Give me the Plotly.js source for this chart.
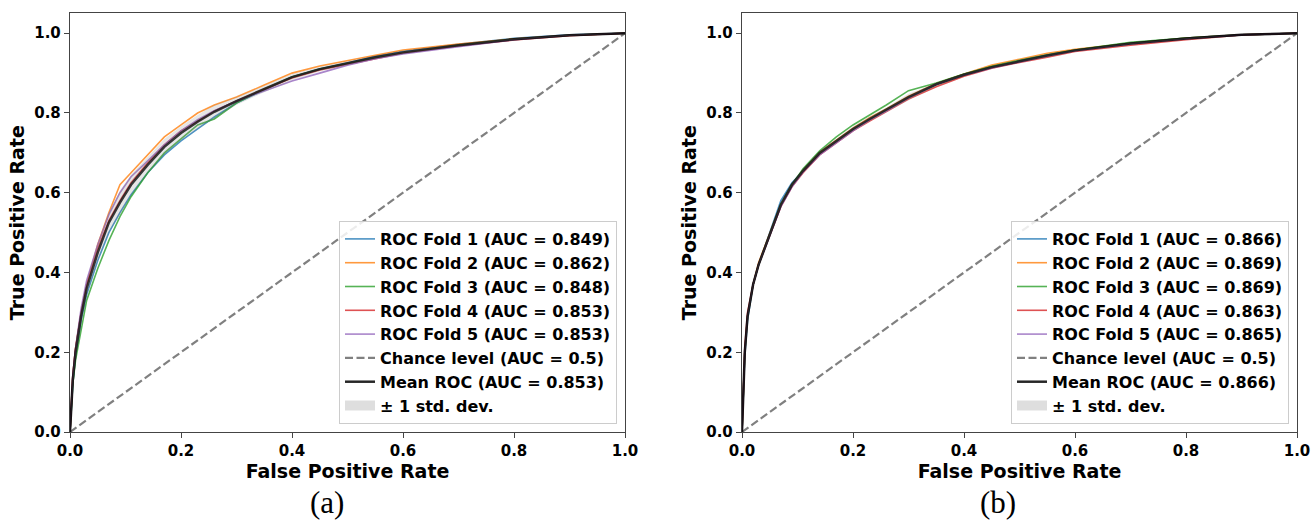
<!DOCTYPE html>
<html>
<head>
<meta charset="utf-8">
<script src="https://cdn.plot.ly/plotly-3.0.1.min.js"></script>
<style>html,body{margin:0;padding:0;background:#fff;}#chart{width:1312px;height:521px;}</style>
</head>
<body>
<div id="chart"></div>
<script>
// ---- shared grid ----
const fprGrid = [0, 0.005, 0.01, 0.02, 0.03, 0.05, 0.07, 0.09, 0.11, 0.14, 0.17, 0.2, 0.23, 0.26, 0.3, 0.35, 0.4, 0.45, 0.5, 0.55, 0.6, 0.7, 0.8, 0.9, 1.0];
const chanceX = [0, 1];
const chanceY = [0, 1];

// ---- panel (a) ----
const aFold1 = [0, 0.12, 0.19, 0.28, 0.345, 0.43, 0.50, 0.55, 0.595, 0.65, 0.695, 0.73, 0.76, 0.79, 0.825, 0.858, 0.89, 0.91, 0.925, 0.942, 0.955, 0.972, 0.987, 0.996, 1];
const aFold2 = [0, 0.14, 0.21, 0.30, 0.37, 0.47, 0.55, 0.62, 0.65, 0.695, 0.74, 0.77, 0.80, 0.82, 0.84, 0.87, 0.90, 0.918, 0.932, 0.945, 0.958, 0.973, 0.986, 0.995, 1];
const aFold3 = [0, 0.12, 0.18, 0.26, 0.33, 0.41, 0.48, 0.54, 0.59, 0.65, 0.70, 0.735, 0.77, 0.785, 0.825, 0.86, 0.89, 0.91, 0.924, 0.938, 0.95, 0.97, 0.985, 0.995, 1];
const aFold4 = [0, 0.14, 0.21, 0.30, 0.37, 0.46, 0.53, 0.58, 0.625, 0.675, 0.72, 0.755, 0.78, 0.805, 0.83, 0.86, 0.888, 0.908, 0.922, 0.937, 0.95, 0.968, 0.983, 0.994, 1];
const aFold5 = [0, 0.14, 0.21, 0.31, 0.38, 0.47, 0.545, 0.60, 0.64, 0.68, 0.72, 0.755, 0.783, 0.806, 0.83, 0.855, 0.88, 0.90, 0.92, 0.936, 0.948, 0.966, 0.984, 0.995, 1];
const aMean  = [0, 0.13, 0.20, 0.29, 0.36, 0.45, 0.525, 0.575, 0.62, 0.67, 0.715, 0.75, 0.778, 0.803, 0.83, 0.86, 0.89, 0.91, 0.925, 0.94, 0.952, 0.97, 0.985, 0.995, 1];
const aUpper = [0, 0.15, 0.22, 0.31, 0.38, 0.47, 0.55, 0.605, 0.645, 0.69, 0.735, 0.767, 0.795, 0.82, 0.84, 0.868, 0.898, 0.916, 0.93, 0.944, 0.956, 0.973, 0.987, 0.996, 1];
const aLower = [0, 0.11, 0.18, 0.27, 0.34, 0.43, 0.50, 0.545, 0.595, 0.65, 0.695, 0.733, 0.761, 0.786, 0.82, 0.852, 0.882, 0.904, 0.92, 0.936, 0.948, 0.967, 0.983, 0.994, 1];
const aLabels = ["ROC Fold 1 (AUC = 0.849)", "ROC Fold 2 (AUC = 0.862)", "ROC Fold 3 (AUC = 0.848)", "ROC Fold 4 (AUC = 0.853)", "ROC Fold 5 (AUC = 0.853)", "Chance level (AUC = 0.5)", "Mean ROC (AUC = 0.853)", "± 1 std. dev."];

// ---- panel (b) ----
const bFold1 = [0, 0.19, 0.28, 0.37, 0.42, 0.50, 0.58, 0.625, 0.655, 0.698, 0.728, 0.758, 0.783, 0.806, 0.838, 0.872, 0.897, 0.916, 0.931, 0.945, 0.958, 0.975, 0.988, 0.996, 1];
const bFold2 = [0, 0.20, 0.29, 0.37, 0.425, 0.50, 0.57, 0.62, 0.656, 0.702, 0.732, 0.762, 0.788, 0.81, 0.842, 0.874, 0.898, 0.92, 0.935, 0.95, 0.96, 0.975, 0.988, 0.996, 1];
const bFold3 = [0, 0.20, 0.29, 0.37, 0.42, 0.495, 0.57, 0.62, 0.66, 0.705, 0.74, 0.77, 0.795, 0.82, 0.856, 0.875, 0.898, 0.917, 0.932, 0.946, 0.958, 0.977, 0.988, 0.996, 1];
const bFold4 = [0, 0.21, 0.30, 0.37, 0.42, 0.49, 0.565, 0.615, 0.65, 0.695, 0.725, 0.755, 0.78, 0.803, 0.835, 0.866, 0.892, 0.912, 0.927, 0.94, 0.954, 0.97, 0.984, 0.996, 1];
const bFold5 = [0, 0.20, 0.29, 0.37, 0.42, 0.49, 0.565, 0.615, 0.652, 0.695, 0.726, 0.755, 0.783, 0.805, 0.838, 0.872, 0.895, 0.913, 0.928, 0.943, 0.956, 0.973, 0.986, 0.996, 1];
const bMean  = [0, 0.20, 0.29, 0.37, 0.42, 0.495, 0.57, 0.62, 0.655, 0.70, 0.73, 0.76, 0.785, 0.808, 0.84, 0.872, 0.896, 0.915, 0.93, 0.944, 0.957, 0.974, 0.987, 0.996, 1];
const bUpper = [0, 0.207, 0.297, 0.375, 0.425, 0.501, 0.577, 0.625, 0.659, 0.704, 0.736, 0.766, 0.791, 0.814, 0.848, 0.875, 0.899, 0.918, 0.933, 0.948, 0.959, 0.976, 0.988, 0.996, 1];
const bLower = [0, 0.193, 0.283, 0.365, 0.415, 0.489, 0.563, 0.615, 0.651, 0.696, 0.724, 0.754, 0.779, 0.802, 0.832, 0.869, 0.893, 0.912, 0.927, 0.940, 0.955, 0.972, 0.985, 0.996, 1];
const bLabels = ["ROC Fold 1 (AUC = 0.866)", "ROC Fold 2 (AUC = 0.869)", "ROC Fold 3 (AUC = 0.869)", "ROC Fold 4 (AUC = 0.863)", "ROC Fold 5 (AUC = 0.865)", "Chance level (AUC = 0.5)", "Mean ROC (AUC = 0.866)", "± 1 std. dev."];

const tickVals = [0, 0.2, 0.4, 0.6, 0.8, 1.0];
const tickText = ["0.0", "0.2", "0.4", "0.6", "0.8", "1.0"];
const foldColors = ["#1f77b4", "#ff7f0e", "#2ca02c", "#d62728", "#9467bd"];

function panelTraces(folds, mean, upper, lower, labels, xa, ya, lg) {
  const tr = [];
  folds.forEach((f, i) => {
    tr.push({x: fprGrid, y: f, xaxis: xa, yaxis: ya, legend: lg, type: 'scatter', mode: 'lines',
      name: labels[i], line: {color: foldColors[i], width: 1.6}, opacity: 0.8, hoverinfo: 'skip'});
  });
  tr.push({x: chanceX, y: chanceY, xaxis: xa, yaxis: ya, legend: lg, type: 'scatter', mode: 'lines',
    name: labels[5], line: {color: '#808080', width: 2.2, dash: '8px,3.5px'}, hoverinfo: 'skip'});
  tr.push({x: fprGrid, y: mean, xaxis: xa, yaxis: ya, legend: lg, type: 'scatter', mode: 'lines',
    name: labels[6], line: {color: 'rgba(0,0,0,0.85)', width: 2.5}, hoverinfo: 'skip'});
  tr.push({x: fprGrid, y: lower, xaxis: xa, yaxis: ya, legend: lg, type: 'scatter', mode: 'lines',
    showlegend: false, line: {width: 0, color: 'rgba(0,0,0,0)'}, hoverinfo: 'skip'});
  tr.push({x: fprGrid, y: upper, xaxis: xa, yaxis: ya, legend: lg, type: 'scatter', mode: 'lines',
    showlegend: false, fill: 'tonexty', fillcolor: 'rgba(128,128,128,0.2)',
    line: {width: 0, color: 'rgba(0,0,0,0)'}, hoverinfo: 'skip'});
  // legend swatch for the std band (no data points drawn)
  tr.push({x: [null], y: [null], xaxis: xa, yaxis: ya, legend: lg, type: 'scatter', mode: 'lines',
    name: labels[7], line: {width: 11, color: '#dedede'}, hoverinfo: 'skip'});
  return tr;
}

const data = [].concat(
  panelTraces([aFold1, aFold2, aFold3, aFold4, aFold5], aMean, aUpper, aLower, aLabels, 'x', 'y', 'legend'),
  panelTraces([bFold1, bFold2, bFold3, bFold4, bFold5], bMean, bUpper, bLower, bLabels, 'x2', 'y2', 'legend2')
);

const W = 1312, H = 521;
const tickFont = {family: 'DejaVu Sans', size: 15, weight: 'bold', color: '#000'};
const titleFont = {family: 'DejaVu Sans', size: 19, weight: 'bold', color: '#000'};
function xAxis(l, r) {
  return {domain: [l / W, r / W], range: [0, 1], tickvals: tickVals, ticktext: tickText,
    showline: true, mirror: true, linecolor: '#444', linewidth: 1.2, ticks: 'outside', ticklen: 5,
    tickcolor: '#444', tickfont: tickFont, showgrid: false, zeroline: false,
    title: {text: 'False Positive Rate', font: titleFont, standoff: 3}};
}
function yAxis(anchor) {
  return {domain: [1 - 432 / H, 1 - 13.3 / H], range: [0, 1.05], anchor: anchor, tickvals: tickVals, ticktext: tickText,
    showline: true, mirror: true, linecolor: '#444', linewidth: 1.2, ticks: 'outside', ticklen: 5,
    tickcolor: '#444', tickfont: tickFont, showgrid: false, zeroline: false,
    title: {text: 'True Positive Rate', font: titleFont, standoff: 4}};
}
const legendBase = {font: {family: 'DejaVu Sans', size: 16, weight: 'bold', color: '#000'},
  bgcolor: 'rgba(255,255,255,0.85)', bordercolor: '#cccccc', borderwidth: 1,
  xanchor: 'right', yanchor: 'bottom', traceorder: 'normal', itemwidth: 30, tracegroupgap: 0};

const layout = {
  width: W, height: H, margin: {l: 0, r: 0, t: 0, b: 0},
  paper_bgcolor: '#fff', plot_bgcolor: '#fff', showlegend: true,
  xaxis: Object.assign(xAxis(70, 625), {anchor: 'y'}),
  yaxis: yAxis('x'),
  xaxis2: Object.assign(xAxis(742, 1297), {anchor: 'y2'}),
  yaxis2: yAxis('x2'),
  legend: Object.assign({}, legendBase, {x: 617 / W, y: 1 - 424 / H}),
  legend2: Object.assign({}, legendBase, {x: 1289 / W, y: 1 - 424 / H}),
  annotations: [
    {text: '(a)', x: 327 / W, y: 1 - 502 / H, xref: 'paper', yref: 'paper', xanchor: 'center', yanchor: 'middle', showarrow: false,
      font: {family: 'Liberation Serif', size: 31, color: '#000'}},
    {text: '(b)', x: 998 / W, y: 1 - 502 / H, xref: 'paper', yref: 'paper', xanchor: 'center', yanchor: 'middle', showarrow: false,
      font: {family: 'Liberation Serif', size: 31, color: '#000'}}
  ]
};

Plotly.newPlot('chart', data, layout, {displayModeBar: false, staticPlot: true});
</script>
</body>
</html>
